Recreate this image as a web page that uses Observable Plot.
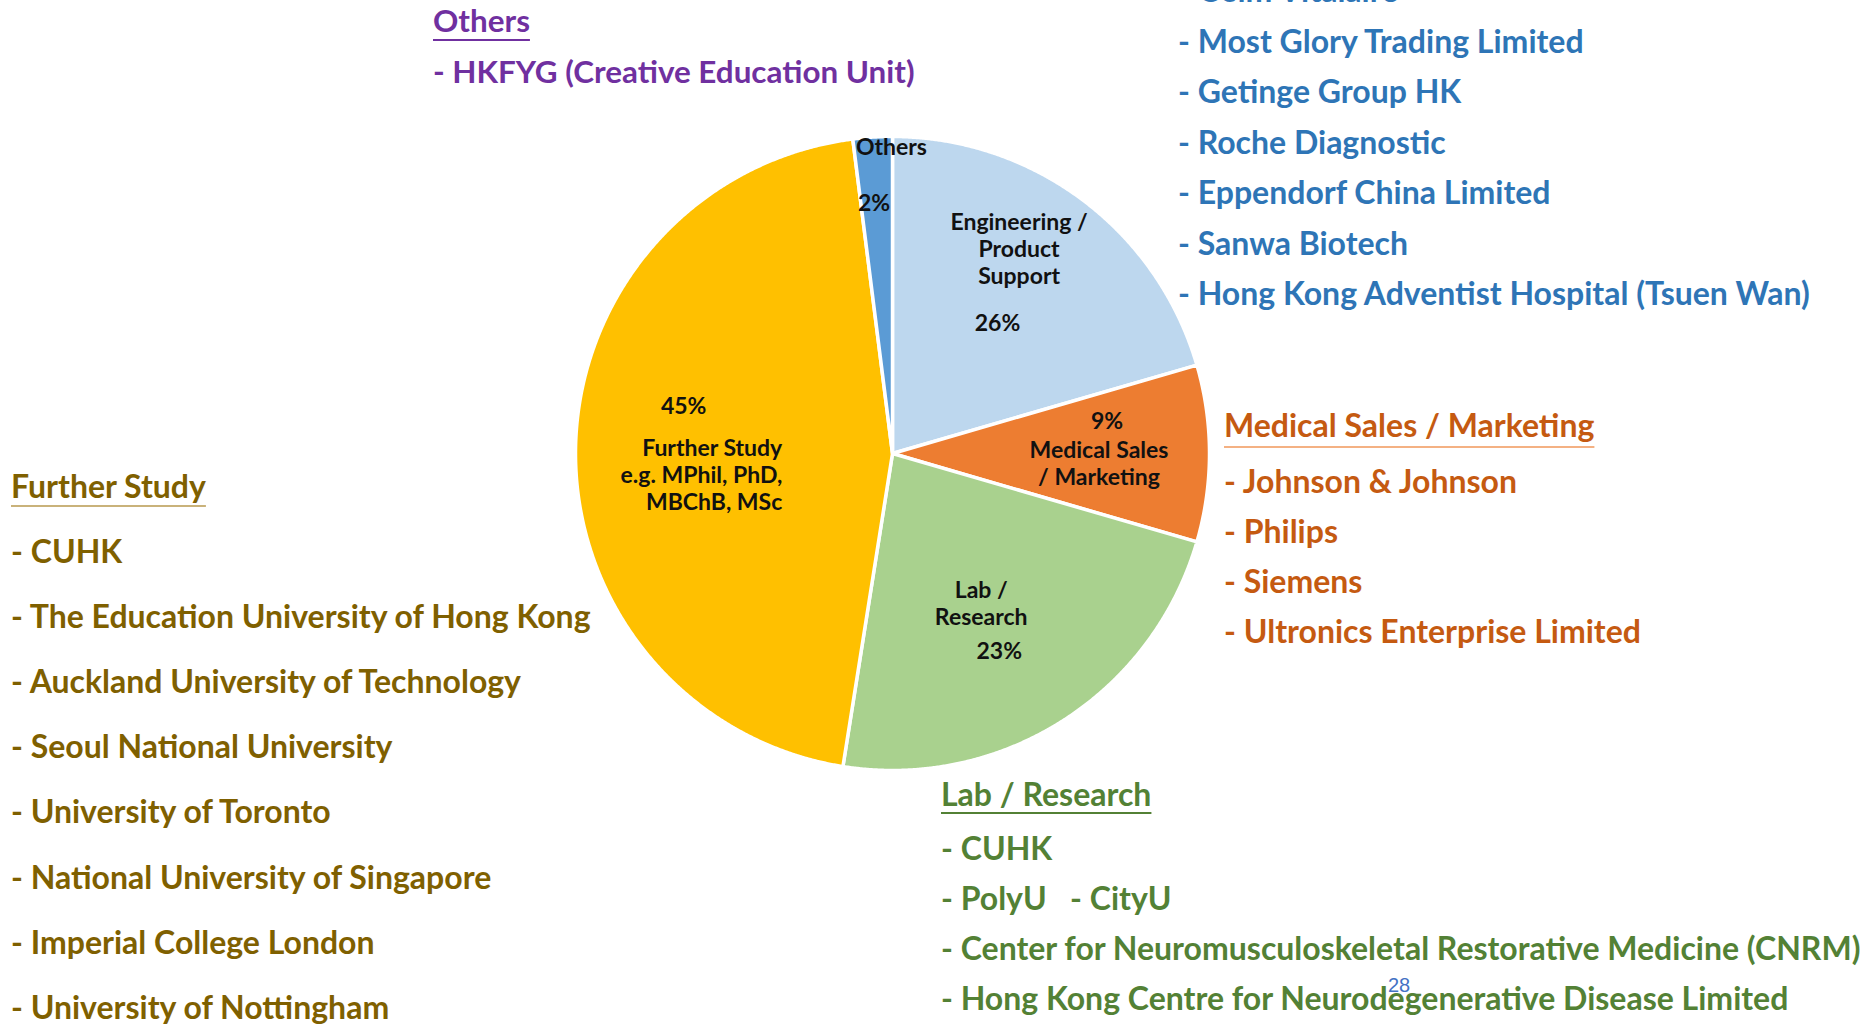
<!DOCTYPE html>
<html><head><meta charset="utf-8">
<script src="https://cdn.jsdelivr.net/npm/d3@7"></script>
<script src="https://cdn.jsdelivr.net/npm/@observablehq/plot@0.6"></script>
<style>html,body{margin:0;padding:0;background:#fff;overflow:hidden}</style>
</head><body><div id="chart"></div>
<script>
// ---- data ----
const categories = ["Engineering / Product Support", "Medical Sales / Marketing", "Lab / Research", "Further Study", "Others"];
const sliceValues = [20.5, 9, 23, 45.5, 2];
const percentLabels = ["26%", "9%", "23%", "45%", "2%"];
const sliceLabels = ["Engineering /\nProduct\nSupport", "Medical Sales\n/ Marketing", "Lab /\nResearch", "Further Study\ne.g. MPhil, PhD,\nMBChB, MSc", "Others"];
const sliceColors = ["#BDD7EE", "#ED7D31", "#A9D18E", "#FFC000", "#5B9BD5"];

const othersItems = ["- HKFYG (Creative Education Unit)"];
const blueItems = ["- Osim Vitalaire", "- Most Glory Trading Limited", "- Getinge Group HK", "- Roche Diagnostic", "- Eppendorf China Limited", "- Sanwa Biotech", "- Hong Kong Adventist Hospital (Tsuen Wan)"];
const medItems = ["- Johnson & Johnson", "- Philips", "- Siemens", "- Ultronics Enterprise Limited"];
const labItems = ["- CUHK", "- PolyU   - CityU", "- Center for Neuromusculoskeletal Restorative Medicine (CNRM)", "- Hong Kong Centre for Neurodegenerative Disease Limited"];
const studyItems = ["- CUHK", "- The Education University of Hong Kong", "- Auckland University of Technology", "- Seoul National University", "- University of Toronto", "- National University of Singapore", "- Imperial College London", "- University of Nottingham"];
const pageNumber = "28";

// ---- layout ----
const cx = 892, cy = 453, R = 317;
const nameAngle = [31.7, 92.5, 149.3, 259.2, 359.8];
const nameRadius = [0.76, 0.652, 0.548, 0.354, 0.968];
const pctAngle = [38.7, 81.2, 151.5, 283, 355.8];
const pctRadius = [0.53, 0.685, 0.706, 0.676, 0.793];

const total = d3.sum(sliceValues);
let acc = 0;
const slices = sliceValues.map((v, i) => {
  const a0 = acc / total * 2 * Math.PI; acc += v;
  const a1 = acc / total * 2 * Math.PI;
  return {i, a0, a1};
});
function slicePoints(s) {
  const n = Math.max(2, Math.ceil((s.a1 - s.a0) / 0.004));
  const arr = [{x: 0, y: 0}];
  for (let k = 0; k <= n; k++) {
    const a = s.a0 + (s.a1 - s.a0) * k / n;
    arr.push({x: Math.sin(a), y: Math.cos(a)});
  }
  arr.push({x: 0, y: 0});
  return arr;
}
const rad = d => d * Math.PI / 180;
const nameData = categories.map((c, i) => ({i, text: sliceLabels[i], x: nameRadius[i] * Math.sin(rad(nameAngle[i])), y: nameRadius[i] * Math.cos(rad(nameAngle[i]))}));
const pctData = categories.map((c, i) => ({i, text: percentLabels[i], x: pctRadius[i] * Math.sin(rad(pctAngle[i])), y: pctRadius[i] * Math.cos(rad(pctAngle[i]))}));

const labelStyle = {fontSize: 23, fontWeight: 700, fill: "#111", fontFamily: "Lato", lineHeight: 1.18, lineAnchor: "middle"};

const plot = Plot.plot({
  width: 1874, height: 1024, margin: 0,
  x: {domain: [-1, 1], range: [cx - R, cx + R], axis: null},
  y: {domain: [-1, 1], range: [cy + R, cy - R], axis: null},
  style: {background: "transparent", overflow: "visible"},
  marks: [
    ...slices.map(s => Plot.line(slicePoints(s), {x: "x", y: "y", fill: sliceColors[s.i], stroke: "white", strokeWidth: 3.5, strokeLinejoin: "round", curve: "linear"})),
    Plot.text(nameData.filter(d => d.i !== 3), {x: "x", y: "y", text: "text", textAnchor: "middle", ...labelStyle}),
    Plot.text(nameData.filter(d => d.i === 3), {x: "x", y: "y", text: "text", textAnchor: "end", ...labelStyle}),
    Plot.text(pctData, {x: "x", y: "y", text: "text", textAnchor: "middle", ...labelStyle})
  ]
});
document.getElementById("chart").appendChild(plot);

// ---- side lists ----
const blocks = [
  {header: "Others", items: othersItems, x: 433, hb: 32, fb: 83, pitch: 50, uy: 40, color: "#7030A0", ucolor: "#7030A0", size: 31.4},
  {header: null, items: blueItems, x: 1178, hb: 0, fb: 2, pitch: 50.55, color: "#2E75B6", size: 32},
  {header: "Medical Sales / Marketing", items: medItems, x: 1224, hb: 437, fb: 493, pitch: 50, uy: 447, color: "#C55A11", ucolor: "#F4B183", size: 32},
  {header: "Further Study", items: studyItems, x: 11, hb: 498, fb: 562.5, pitch: 65.2, uy: 506, color: "#7F6000", ucolor: "#C9B27A", size: 32},
  {header: "Lab / Research", items: labItems, x: 941, hb: 806, fb: 860, pitch: 50, uy: 813, color: "#538135", ucolor: "#538135", size: 32}
];
const svg = d3.select(plot);
const g = svg.append("g").attr("font-family", "Lato").attr("font-weight", 700).attr("text-anchor", "start");
blocks.forEach(b => {
  if (b.header) {
    const t = g.append("text").attr("x", b.x).attr("y", b.hb).attr("fill", b.color).attr("font-size", b.size).text(b.header);
    const w = t.node().getComputedTextLength();
    g.append("line").attr("x1", b.x).attr("x2", b.x + w).attr("y1", b.uy).attr("y2", b.uy).attr("stroke", b.ucolor).attr("stroke-width", 2);
  }
  b.items.forEach((it, k) => {
    g.append("text").attr("x", b.x).attr("y", b.fb + k * b.pitch).attr("fill", b.color).attr("font-size", b.size).style("white-space", "pre").text(it);
  });
});
svg.append("text").attr("x", 1388).attr("y", 992).attr("text-anchor", "start").attr("fill", "#4472C4").attr("font-family", "Liberation Sans").attr("font-size", 20).text(pageNumber);
</script>
</body></html>
